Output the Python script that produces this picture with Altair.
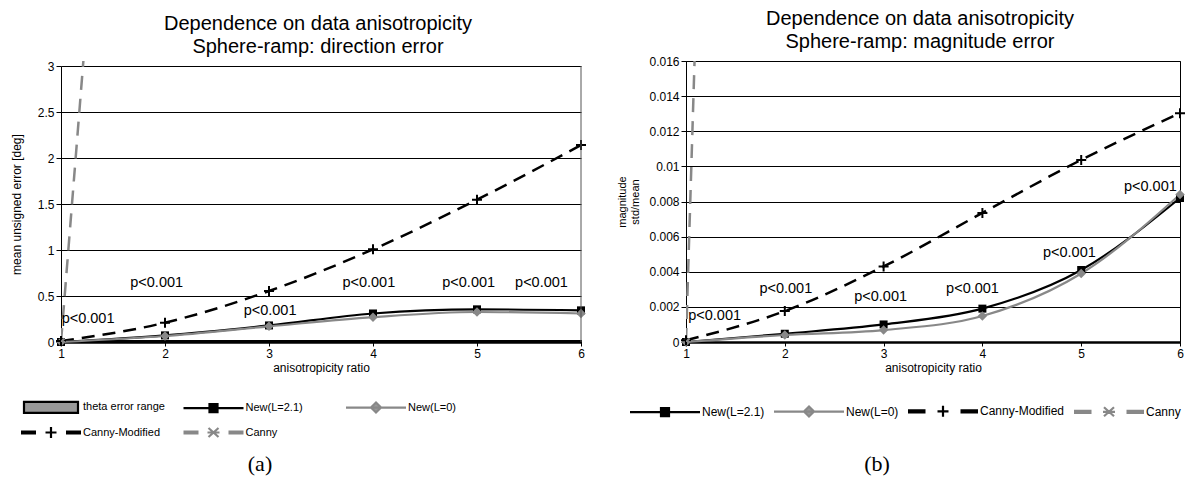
import altair as alt
import pandas as pd

# ---------------- data ----------------
x_vals = [1, 2, 3, 4, 5, 6]

# panel (a): direction error [deg]
a_new21 = [0.0, 0.072, 0.18, 0.31, 0.355, 0.344]
a_new0 = [0.0, 0.065, 0.17, 0.27, 0.326, 0.31]
a_canny_mod = [0.01, 0.21, 0.554, 1.007, 1.547, 2.14]
a_canny_x = [1, 2]
a_canny = [0.0, 14.2]
a_theta_lo = [0.0, 0.0, 0.0, 0.0, 0.0, 0.0]
a_theta_hi = [0.01, 0.01, 0.01, 0.01, 0.01, 0.01]
a_p_x = [1.26, 1.92, 3.01, 3.96, 4.92, 5.62]
a_p_y = [0.246, 0.645, 0.337, 0.645, 0.645, 0.645]

# panel (b): magnitude error (std/mean)
b_new21 = [0.0, 0.00047, 0.001, 0.0019, 0.0041, 0.0082]
b_new0 = [0.0, 0.0004, 0.00068, 0.00148, 0.0039, 0.0084]
b_canny_mod = [0.0001, 0.00176, 0.0043, 0.00735, 0.01037, 0.01303]
b_canny_x = [1, 2]
b_canny = [0.0, 0.185]
b_p_x = [1.29, 2.01, 2.97, 3.90, 4.88, 5.70]
b_p_y = [0.00148, 0.0030, 0.00258, 0.0030, 0.00504, 0.0088]

p_text = "p<0.001"
a_series = ["theta error range", "New(L=2.1)", "New(L=0)", "Canny-Modified", "Canny"]
b_series = ["New(L=2.1)", "New(L=0)", "Canny-Modified", "Canny"]
a_ticks = [0, 0.5, 1, 1.5, 2, 2.5, 3]
b_ticks = [0, 0.002, 0.004, 0.006, 0.008, 0.01, 0.012, 0.014, 0.016]

# ---------------- styles ----------------
FONT = "Liberation Sans"
BLACK = "#000000"
GRAY = "#888888"
SERIES_COLOR = {"theta error range": BLACK, "New(L=2.1)": BLACK, "New(L=0)": GRAY,
                "Canny-Modified": BLACK, "Canny": GRAY}


def symbols(L):
    """legend glyph paths, half-length L (units of 10px)"""
    d = L / 2.0
    return {
        "theta error range": "M-%.2f,-0.55H%.2fV0.55H-%.2fZ" % (L - 0.3, L - 0.3, L - 0.3),
        "New(L=2.1)": "M-%.2f,0H%.2fM-0.4,-0.4H0.4V0.4H-0.4ZM-0.4,-0.2H0.4M-0.4,0.2H0.4" % (L, L),
        "New(L=0)": "M-%.2f,0H%.2fM0,-0.5L0.5,0L0,0.5L-0.5,0Z" % (L, L),
        "Canny-Modified": ("M-{L},-0.1H-{d}M-{L},0.1H-{d}M-0.55,0H0.55M0,-0.55V0.55"
                           "M{d},-0.1H{L}M{d},0.1H{L}").format(L=L, d=d),
        "Canny": ("M-{L},-0.1H-{d}M-{L},0.1H-{d}M-0.5,-0.45L0.5,0.45M-0.5,0.45L0.5,-0.45"
                  "M-0.6,0H0.6M{d},-0.1H{L}M{d},0.1H{L}").format(L=L, d=d),
    }


CROSS = "M-1,0H1M0,-1V1"
ASTER = "M-0.8,-0.8L0.8,0.8M-0.8,0.8L0.8,-0.8M-1,0H1"


def xy(xs, ys):
    return pd.DataFrame({"x": xs, "y": ys})


def panel(tag, new21, new0, cmod, cx, cy, px, py, ymax, yticks, ytitle, series,
          leg_kw, half_len, w, h, top_gap, title, title_dx, theta=None, cap_xy=(0, 0)):
    X = alt.X("x:Q", scale=alt.Scale(domain=[1, 6], nice=False, zero=False),
              axis=alt.Axis(values=x_vals, format="d", grid=False, tickSize=4,
                            domainWidth=2.5, labelFontSize=12, labelPadding=2,
                            labelFlush=False, title="anisotropicity ratio",
                            titleFontSize=12, titlePadding=3))
    Y = alt.Y("y:Q", scale=alt.Scale(domain=[0, ymax], nice=False, zero=True, range=[h, top_gap]),
              axis=alt.Axis(values=yticks, format="~g", grid=True, gridWidth=1,
                            tickSize=5, labelFontSize=12, labelPadding=2,
                            title=ytitle, titleFontSize=12 if tag == "a" else 11,
                            titlePadding=14 if tag == "a" else 8))
    layers = []
    if theta is not None:
        tdf = pd.DataFrame({"x": x_vals, "y": theta[0], "y2": theta[1]})
        layers.append(alt.Chart(tdf).mark_area(color=GRAY, stroke=BLACK, strokeWidth=2,
                                               opacity=1).encode(x=X, y=Y, y2="y2:Q"))
    layers.append(alt.Chart(xy(cx, cy)).mark_line(color=GRAY, strokeWidth=2.5,
                                                  strokeDash=[14, 9], clip=True).encode(x=X, y=Y))
    layers.append(alt.Chart(xy(x_vals, cmod)).mark_line(color=BLACK, strokeWidth=2.5,
                                                        strokeDash=[13, 8], interpolate="monotone").encode(x=X, y=Y))
    layers.append(alt.Chart(xy(x_vals, new21)).mark_line(color=BLACK, strokeWidth=2.2,
                                                         interpolate="monotone").encode(x=X, y=Y))
    layers.append(alt.Chart(xy(x_vals, new0)).mark_line(color=GRAY, strokeWidth=2.2,
                                                        interpolate="monotone").encode(x=X, y=Y))
    layers.append(alt.Chart(xy(x_vals, new21)).mark_point(shape="square", filled=True, size=64,
                                                          color=BLACK, opacity=1).encode(x=X, y=Y))
    layers.append(alt.Chart(xy(x_vals, new0)).mark_point(shape="diamond", filled=True, size=90,
                                                         color=GRAY, opacity=1).encode(x=X, y=Y))
    layers.append(alt.Chart(xy(x_vals, cmod)).mark_point(shape=CROSS, filled=False, size=100,
                                                         strokeWidth=2, color=BLACK, opacity=1).encode(x=X, y=Y))
    layers.append(alt.Chart(xy(cx, cy)).mark_point(shape=ASTER, filled=False, size=80, clip=True,
                                                   strokeWidth=2, color=GRAY, opacity=1).encode(x=X, y=Y))
    pdf = pd.DataFrame({"x": px, "y": py, "t": [p_text] * len(px)})
    layers.append(alt.Chart(pdf).mark_text(font=FONT, fontSize=14.5, color=BLACK,
                                           align="center", baseline="middle").encode(x=X, y=Y, text="t:N"))
    if top_gap > 0:
        # right-hand frame line of the plot box (the top edge is the top gridline)
        fdf = pd.DataFrame({"f": [1]})
        layers.append(alt.Chart(fdf).mark_rule(color="#555555", strokeWidth=1).encode(
            x=alt.value(w), y=alt.value(top_gap), y2=alt.value(h)))
    # legend: symbol box 20px (size 400) -> glyph spans 2*half_len*10 px
    so = half_len * 10 - 11.5
    lo = 2 * half_len * 10 + 2 - 23 - so
    leg = alt.Legend(title=None, orient="none", direction="horizontal", padding=0,
                     symbolSize=400, symbolOffset=so, labelOffset=lo,
                     symbolStrokeWidth=2.2, symbolOpacity=1, **leg_kw)
    sym = symbols(half_len)
    fld = "series_" + tag
    ldf = pd.DataFrame({fld: series})
    layers.append(alt.Chart(ldf).transform_filter("false").mark_point(
        filled=False, fill="#999999", strokeWidth=2.2, size=400, opacity=1).encode(
        x=X, y=Y,
        color=alt.Color(fld + ":N", scale=alt.Scale(domain=series, range=[SERIES_COLOR[s] for s in series]), legend=leg),
        shape=alt.Shape(fld + ":N", scale=alt.Scale(domain=series, range=[sym[s] for s in series]), legend=leg),
    ))
    cdf = pd.DataFrame({"cap": ["(" + tag + ")"]})
    layers.append(alt.Chart(cdf).mark_text(font="Liberation Serif", fontSize=22, color=BLACK,
                                           align="center", baseline="middle").encode(
        x=alt.value(cap_xy[0]), y=alt.value(cap_xy[1]), text="cap:N"))
    props = dict(width=w, height=h,
                 title=alt.TitleParams(text=title[0], subtitle=title[1], fontSize=20, font=FONT,
                                       fontWeight="normal", color=BLACK, subtitleFont=FONT,
                                       subtitleFontSize=20, subtitleColor=BLACK,
                                       subtitleFontWeight="normal", subtitlePadding=3,
                                       anchor="middle", offset=3, dx=title_dx))
    if top_gap > 0:
        props["view"] = alt.ViewBackground(strokeOpacity=0)
    return alt.layer(*layers).properties(**props)


left = panel("a", a_new21, a_new0, a_canny_mod, a_canny_x, a_canny, a_p_x, a_p_y, 3, a_ticks,
             "mean unsigned error [deg]", a_series,
             dict(legendX=-40, legendY=334.5, columns=3, gridAlign="all", columnPadding=13.5,
                  rowPadding=3.5, labelFontSize=11),
             3.0,
             520, 281, 5, ["Dependence on data anisotropicity", "Sphere-ramp: direction error"], -3,
             theta=(a_theta_lo, a_theta_hi), cap_xy=(199, 403))

right = panel("b", b_new21, b_new0, b_canny_mod, b_canny_x, b_canny, b_p_x, b_p_y, 0.016, b_ticks,
              ["magnitude", "std/mean"], b_series,
              dict(legendX=-56, legendY=338.5, columns=4, gridAlign="each", columnPadding=4,
                   labelFontSize=12),
              3.5,
              494, 281, 0, ["Dependence on data anisotropicity", "Sphere-ramp: magnitude error"], -13,
              cap_xy=(191, 403))

chart = alt.hconcat(left, right, spacing=26).resolve_scale(
    color="independent", shape="independent").resolve_legend(
    color="independent", shape="independent").properties(
    padding={"left": 2, "top": 0, "right": 0, "bottom": 0}
).configure_view(stroke=BLACK, strokeWidth=1).configure_axis(
    labelFont=FONT, titleFont=FONT, labelColor=BLACK, titleColor=BLACK, titleFontWeight="normal",
    domainColor=BLACK, tickColor=BLACK, gridColor=BLACK
).configure_legend(labelFont=FONT, labelColor=BLACK)

chart.save("out.html", embed_options={"renderer": "svg", "actions": False})
